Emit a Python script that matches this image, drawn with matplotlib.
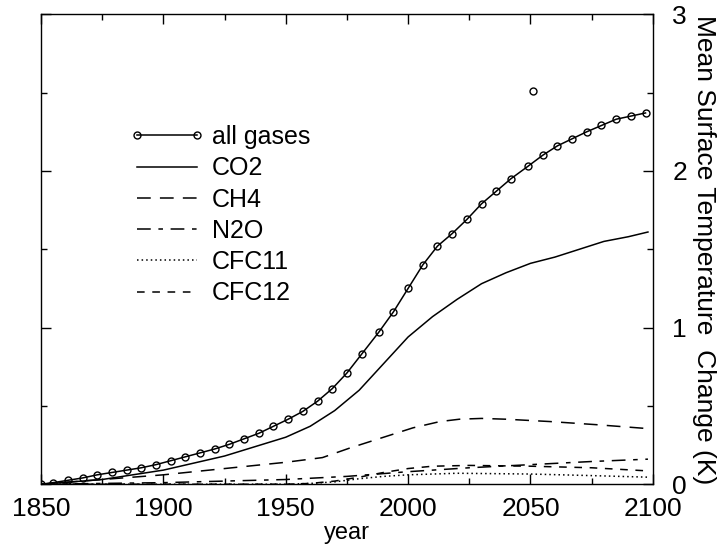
import matplotlib
matplotlib.use("Agg")
import matplotlib.pyplot as plt
from matplotlib.ticker import MultipleLocator

plt.rcParams["font.family"] = ["Liberation Sans", "DejaVu Sans"]

# all gases (with markers)
all_years = [1850, 1855, 1861, 1867, 1873, 1879, 1885, 1891, 1897, 1903, 1909,
             1915, 1921, 1927, 1933, 1939, 1945, 1951, 1957, 1963, 1969, 1975,
             1981, 1988, 1994, 2000, 2006, 2012, 2018, 2024, 2030, 2036, 2042,
             2049, 2055, 2061, 2067, 2073, 2079, 2085, 2091, 2097]
all_gases = [0.0, 0.01, 0.025, 0.04, 0.06, 0.075, 0.09, 0.105, 0.125, 0.15, 0.175,
             0.20, 0.225, 0.255, 0.29, 0.325, 0.37, 0.415, 0.465, 0.53, 0.61, 0.71,
             0.83, 0.97, 1.10, 1.25, 1.40, 1.52, 1.60, 1.69, 1.79, 1.87, 1.95,
             2.03, 2.10, 2.16, 2.205, 2.25, 2.29, 2.33, 2.35, 2.37]

co2_years = [1850, 1875, 1900, 1925, 1950, 1960, 1970, 1980, 1990, 2000, 2010,
             2020, 2030, 2040, 2050, 2060, 2070, 2080, 2090, 2098]
co2 = [0.0, 0.03, 0.09, 0.18, 0.30, 0.37, 0.47, 0.60, 0.77, 0.94, 1.07,
       1.18, 1.28, 1.35, 1.41, 1.45, 1.50, 1.55, 1.58, 1.61]

ch4_years = [1850, 1875, 1900, 1925, 1950, 1965, 1976, 1986, 1994, 2002, 2013,
             2021, 2030, 2040, 2058, 2077, 2098]
ch4 = [0.0, 0.03, 0.06, 0.10, 0.14, 0.17, 0.23, 0.28, 0.32, 0.36, 0.40,
       0.415, 0.42, 0.415, 0.40, 0.38, 0.355]

n2o_years = [1850, 1875, 1900, 1925, 1950, 1975, 2000, 2025, 2050, 2075, 2098]
n2o = [0.0, 0.005, 0.01, 0.02, 0.03, 0.05, 0.08, 0.105, 0.125, 0.145, 0.16]

cfc11_years = [1850, 1950, 1960, 1970, 1980, 1990, 2000, 2020, 2050, 2075, 2098]
cfc11 = [0.0, 0.0, 0.005, 0.015, 0.035, 0.05, 0.06, 0.07, 0.065, 0.055, 0.045]

cfc12_years = [1850, 1950, 1960, 1970, 1980, 1990, 2000, 2010, 2025, 2050, 2075, 2098]
cfc12 = [0.0, 0.0, 0.005, 0.02, 0.045, 0.075, 0.10, 0.115, 0.12, 0.115, 0.105, 0.085]

# lone circle above the curve
stray_year = [2051]
stray_val = [2.51]

fig = plt.figure(figsize=(7.19, 5.49), dpi=100)
ax = fig.add_axes([0.057, 0.118, 0.851, 0.856])

lw = 1.1
ax.plot(all_years, all_gases, color="black", lw=lw, marker="o", ms=5,
        mfc="none", mew=1.0, label="all gases")
ax.plot(co2_years, co2, color="black", lw=lw, label="CO2")
ax.plot(ch4_years, ch4, color="black", lw=lw, dashes=(9, 6), label="CH4")
ax.plot(n2o_years, n2o, color="black", lw=lw, dashes=(9, 5, 3, 5), label="N2O")
ax.plot(cfc11_years, cfc11, color="black", lw=lw, dashes=(1, 2), label="CFC11")
ax.plot(cfc12_years, cfc12, color="black", lw=lw, dashes=(5, 5), label="CFC12")
ax.plot(stray_year, stray_val, ls="none", marker="o", ms=5, mfc="none",
        mec="black", mew=1.0)

ax.set_xlim(1850, 2100)
ax.set_ylim(0, 3)
ax.xaxis.set_major_locator(MultipleLocator(50))
ax.xaxis.set_minor_locator(MultipleLocator(25))
ax.yaxis.set_major_locator(MultipleLocator(1))
ax.yaxis.set_minor_locator(MultipleLocator(0.5))
ax.tick_params(which="both", direction="in", top=True, right=True,
               labelleft=False, labelright=True, labelsize=19, width=1)
ax.tick_params(which="major", length=7)
ax.tick_params(axis="x", which="major", pad=9)
ax.tick_params(axis="y", which="major", pad=14)
ax.tick_params(which="minor", length=4)
ax.yaxis.set_label_position("right")
ax.set_ylabel("Mean Surface Temperature  Change (K)", fontsize=19,
              rotation=270, labelpad=21)
ax.set_xlabel("year", fontsize=17, labelpad=1)
for s in ax.spines.values():
    s.set_linewidth(1)

ax.legend(loc="upper left", bbox_to_anchor=(0.145, 0.764), frameon=False,
          fontsize=18, numpoints=2, handlelength=3.0, handletextpad=0.3,
          labelspacing=0.29, borderpad=0, borderaxespad=0)

fig.savefig("out.png", dpi=100, facecolor="white")
